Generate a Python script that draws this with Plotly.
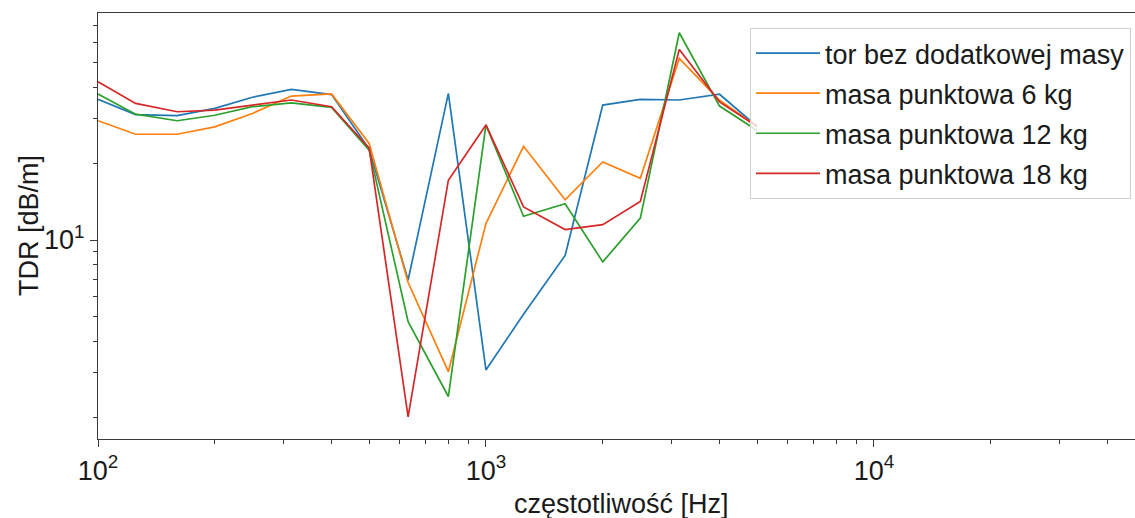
import plotly.graph_objects as go

# 1/3-octave band centre frequencies [Hz]
freq = [100, 125, 160, 200, 250, 315, 400, 500, 630, 800, 1000, 1250, 1600, 2000, 2500, 3150, 4000, 5000]

series_names = ["tor bez dodatkowej masy", "masa punktowa 6 kg", "masa punktowa 12 kg", "masa punktowa 18 kg"]
tdr_none = [35.8, 31.2, 30.9, 33.0, 36.5, 39.2, 37.4, 22.8, 6.96, 37.8, 3.08, 5.1, 8.7, 34.0, 35.8, 35.6, 37.5, 28.0]
tdr_6kg = [29.5, 26.1, 26.1, 27.9, 31.5, 36.9, 37.6, 24.0, 6.8, 3.03, 11.6, 23.4, 14.4, 20.3, 17.5, 51.9, 35.5, 28.0]
tdr_12kg = [37.6, 31.3, 29.5, 31.0, 33.5, 34.7, 33.3, 22.6, 4.77, 2.42, 28.4, 12.4, 13.9, 8.2, 12.2, 65.5, 33.7, 27.0]
tdr_18kg = [42.0, 34.5, 32.0, 32.5, 34.0, 35.6, 33.5, 23.0, 2.01, 17.2, 28.4, 13.5, 11.0, 11.5, 14.2, 56.3, 35.0, 28.0]

x_tickvals = [100, 1000, 10000]
x_ticktext = ["10<sup>2</sup>", "10<sup>3</sup>", "10<sup>4</sup>"]
y_tickvals = [10]
y_ticktext = ["10<sup>1</sup>"]
x_minor = [200, 300, 400, 500, 600, 700, 800, 900,
           2000, 3000, 4000, 5000, 6000, 7000, 8000, 9000,
           20000, 30000, 40000]
y_minor = [2, 3, 4, 5, 6, 7, 8, 9, 20, 30, 40, 50, 60, 70]

colors = ["#1f77b4", "#ff7f0e", "#2ca02c", "#d62728"]
data = [tdr_none, tdr_6kg, tdr_12kg, tdr_18kg]

FONT = "Liberation Sans, Arial, sans-serif"
TXT = "#1a1a1a"

fig = go.Figure()
for name, vals, col in zip(series_names, data, colors):
    fig.add_trace(go.Scatter(x=freq, y=vals, mode="lines", name=name,
                             legendgroup=name,
                             line=dict(color=col, width=1.7)))

axis_col = "#3a3a3a"
fig.update_layout(
    width=1135, height=518,
    margin=dict(l=98, r=0, t=13, b=79),
    paper_bgcolor="white", plot_bgcolor="white",
    font=dict(family=FONT, size=26, color=TXT),
    showlegend=True,
    legend=dict(x=(1131 - 98) / 1037, y=1 - (28 - 13) / 426, xanchor="right", yanchor="top",
                bgcolor="rgba(255,255,255,0.8)", bordercolor="#d0d0d0", borderwidth=1,
                font=dict(family=FONT, size=27, color=TXT),
                traceorder="grouped", tracegroupgap=2, itemwidth=64),
    xaxis=dict(type="log", range=[2, 4.673],
               tickmode="array", tickvals=x_tickvals, ticktext=x_ticktext,
               ticks="outside", ticklen=7, tickwidth=1.2, tickcolor=axis_col,
               showline=True, linecolor=axis_col, linewidth=1.3, mirror=True,
               showgrid=False, zeroline=False,
               tickfont=dict(family=FONT, size=27, color=TXT),
               minor=dict(tickmode="array", tickvals=x_minor, ticks="outside",
                          ticklen=4, tickwidth=1, tickcolor=axis_col, showgrid=False)),
    yaxis=dict(type="log", range=[0.2165, 1.894],
               tickmode="array", tickvals=y_tickvals, ticktext=y_ticktext,
               ticks="outside", ticklen=7, tickwidth=1.2, tickcolor=axis_col,
               showline=True, linecolor=axis_col, linewidth=1.3, mirror=False,
               showgrid=False, zeroline=False,
               tickfont=dict(family=FONT, size=27, color=TXT),
               minor=dict(tickmode="array", tickvals=y_minor, ticks="outside",
                          ticklen=4, tickwidth=1, tickcolor=axis_col, showgrid=False)),
    annotations=[
        dict(text="częstotliwość [Hz]", xref="paper", yref="paper",
             x=(621 - 98) / 1037, y=-(504 - 439) / 426, xanchor="center", yanchor="middle",
             showarrow=False, font=dict(family=FONT, size=27, color=TXT)),
        dict(text="TDR [dB/m]", xref="paper", yref="paper",
             x=-(98 - 29) / 1037, y=(439 - 226) / 426, xanchor="center", yanchor="middle",
             textangle=-90, showarrow=False, font=dict(family=FONT, size=27, color=TXT)),
    ],
)

fig.write_html("out.html",
               config={"displayModeBar": False},
               post_script="document.body.style.margin='0';document.body.style.overflow='hidden';")
